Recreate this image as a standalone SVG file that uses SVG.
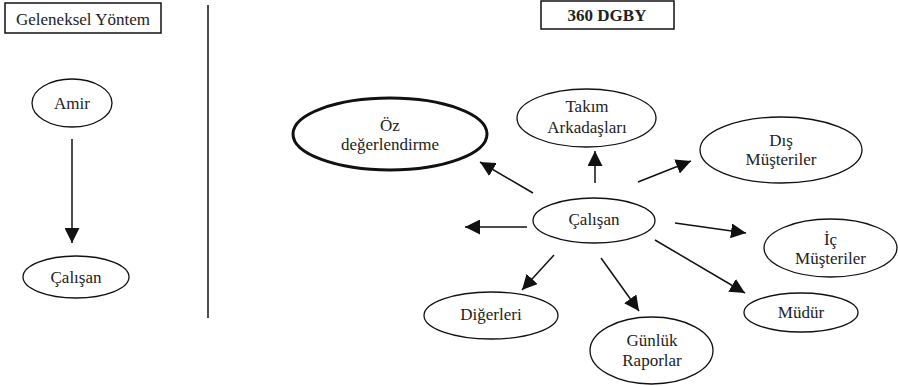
<svg xmlns="http://www.w3.org/2000/svg" width="898" height="386" viewBox="0 0 898 386">
<defs>
<style>
text{font-family:"Liberation Serif","DejaVu Serif",serif;font-size:17px;fill:#222;text-anchor:middle}
.n{fill:#fff;stroke:#111;stroke-width:1.3}
.b{fill:#fff;stroke:#111;stroke-width:1.5}
.c{stroke:#111;stroke-width:1.5;fill:none;marker-end:url(#ah)}
</style>
<marker id="ah" markerUnits="userSpaceOnUse" markerWidth="15" markerHeight="15" refX="14" refY="7" orient="auto" viewBox="0 0 14 14">
<path d="M0,0 L14,7 L0,14 z" fill="#111"/>
</marker>
</defs>
<rect width="898" height="386" fill="#fff"/>
<line x1="208" y1="5" x2="208" y2="318" stroke="#111" stroke-width="1.5"/>
<g id="connectors">
<line class="c" x1="72" y1="139" x2="72" y2="243"/>
<line class="c" x1="533" y1="193" x2="480" y2="162"/>
<line class="c" x1="595" y1="183" x2="595" y2="151"/>
<line class="c" x1="638" y1="182" x2="691" y2="161"/>
<line class="c" x1="527" y1="227" x2="465" y2="227"/>
<line class="c" x1="675" y1="223" x2="746" y2="233"/>
<line class="c" x1="655" y1="240" x2="745" y2="293"/>
<line class="c" x1="554" y1="255" x2="522" y2="290"/>
<line class="c" x1="601" y1="258" x2="639" y2="311"/>
</g>
<g id="geleneksel">
<rect class="b" x="5" y="3" width="156" height="30"/>
<text x="83" y="25">Geleneksel Yöntem</text>
</g>
<g id="amir">
<ellipse class="n" cx="72" cy="103" rx="40" ry="24"/>
<text x="72" y="109">Amir</text>
</g>
<g id="calisan-left">
<ellipse class="n" cx="76" cy="277" rx="53" ry="21"/>
<text x="76" y="283">Çalışan</text>
</g>
<g id="dgby">
<rect class="b" x="541" y="1" width="133" height="28"/>
<text x="607" y="21" font-weight="bold">360 DGBY</text>
</g>
<g id="oz">
<ellipse cx="390" cy="134" rx="97" ry="36" fill="#fff" stroke="#111" stroke-width="3"/>
<text x="390" y="131">Öz</text>
<text x="390" y="150">değerlendirme</text>
</g>
<g id="takim">
<ellipse class="n" cx="586.5" cy="118" rx="69.5" ry="29"/>
<text x="587" y="112">Takım</text>
<text x="587" y="133">Arkadaşları</text>
</g>
<g id="dis">
<ellipse class="n" cx="781" cy="150" rx="81" ry="33"/>
<text x="781" y="146">Dış</text>
<text x="781" y="165">Müşteriler</text>
</g>
<g id="calisan">
<ellipse class="n" cx="594" cy="220.5" rx="61" ry="22.5"/>
<text x="594" y="225">Çalışan</text>
</g>
<g id="ic">
<ellipse class="n" cx="830.5" cy="248" rx="66.5" ry="29"/>
<text x="830.5" y="245">İç</text>
<text x="830.5" y="264">Müşteriler</text>
</g>
<g id="mudur">
<ellipse class="n" cx="801" cy="312.5" rx="57" ry="19.5"/>
<text x="801" y="318">Müdür</text>
</g>
<g id="digerleri">
<ellipse class="n" cx="491" cy="315.5" rx="67" ry="23.5"/>
<text x="491" y="320">Diğerleri</text>
</g>
<g id="gunluk">
<ellipse class="n" cx="651.5" cy="350.5" rx="61.5" ry="33.5"/>
<text x="652" y="346">Günlük</text>
<text x="652" y="366">Raporlar</text>
</g>
</svg>
